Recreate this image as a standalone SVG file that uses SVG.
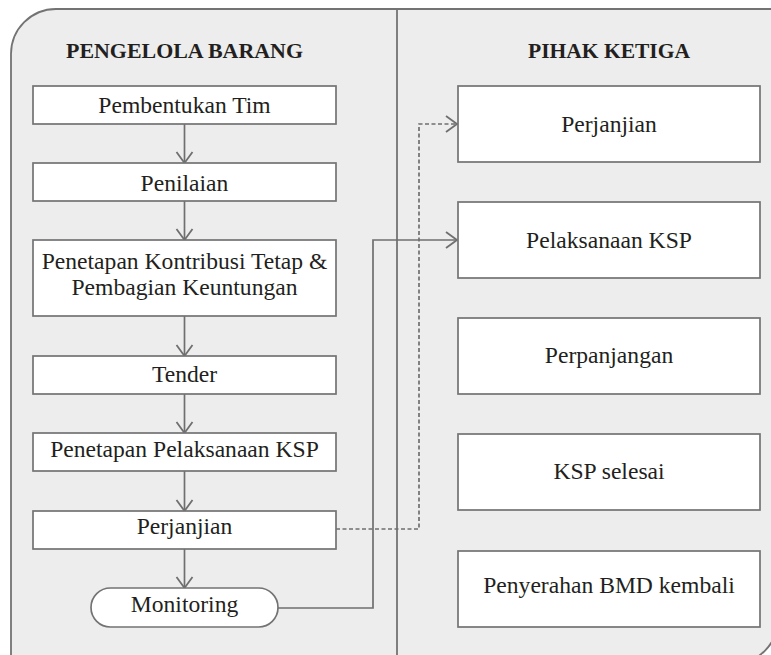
<svg xmlns="http://www.w3.org/2000/svg" width="771" height="655" viewBox="0 0 771 655">
<style>
.box{fill:#ffffff;stroke:#737373;stroke-width:1.7}
.t{font-family:"Liberation Serif","Times New Roman",serif;font-size:23.6px;fill:#231f20;text-anchor:middle}
.h{font-family:"Liberation Serif","Times New Roman",serif;font-size:21px;font-weight:bold;fill:#231f20;text-anchor:middle}
.ln{fill:none;stroke:#6f6f6f;stroke-width:1.7}
.dash{stroke-dasharray:4 2.5}
</style>
<defs>
<marker id="ah" markerUnits="userSpaceOnUse" markerWidth="20" markerHeight="20" viewBox="-14 -10 16 20" refX="0" refY="0" orient="auto">
<path d="M-11,-8 L0,0 L-11,8" fill="none" stroke="#6f6f6f" stroke-width="1.8"/>
</marker>
</defs>
<g id="panel">
<path d="M11,670 L11,54 A45,45 0 0 1 56,9 L778,9 L778,619 A45,45 0 0 1 733,664 L11,664 Z" fill="#ecedec" stroke="#737373" stroke-width="1.8"/>
<line x1="397" y1="9" x2="397" y2="660" stroke="#737373" stroke-width="1.8"/>
<text class="h" x="184.5" y="58" textLength="237" lengthAdjust="spacingAndGlyphs">PENGELOLA BARANG</text>
<text class="h" x="609" y="58" textLength="162" lengthAdjust="spacingAndGlyphs">PIHAK KETIGA</text>
</g>
<g id="connectors">
<path class="ln" d="M184.5,124 L184.5,163" marker-end="url(#ah)"/>
<path class="ln" d="M184.5,201 L184.5,240" marker-end="url(#ah)"/>
<path class="ln" d="M184.5,316 L184.5,356" marker-end="url(#ah)"/>
<path class="ln" d="M184.5,394 L184.5,433" marker-end="url(#ah)"/>
<path class="ln" d="M184.5,471 L184.5,511" marker-end="url(#ah)"/>
<path class="ln" d="M184.5,549 L184.5,588" marker-end="url(#ah)"/>
<path class="ln dash" d="M336,529 L419,529 L419,124 L457,124" marker-end="url(#ah)"/>
<path class="ln" d="M278,608 L373,608 L373,240 L457,240" marker-end="url(#ah)"/>
</g>
<g id="pembentukan-tim">
<rect class="box" x="33" y="86" width="303" height="38"/>
<text class="t" x="184.5" y="113">Pembentukan Tim</text>
</g>
<g id="penilaian">
<rect class="box" x="33" y="163" width="303" height="38"/>
<text class="t" x="184.5" y="190.5">Penilaian</text>
</g>
<g id="penetapan-kontribusi">
<rect class="box" x="33" y="240" width="303" height="76"/>
<text class="t" x="184.5" y="269">Penetapan Kontribusi Tetap &amp;</text>
<text class="t" x="184.5" y="295">Pembagian Keuntungan</text>
</g>
<g id="tender">
<rect class="box" x="33" y="356" width="303" height="38"/>
<text class="t" x="184.5" y="381.5">Tender</text>
</g>
<g id="penetapan-pelaksanaan">
<rect class="box" x="33" y="433" width="303" height="38"/>
<text class="t" x="184.5" y="457">Penetapan Pelaksanaan KSP</text>
</g>
<g id="perjanjian-left">
<rect class="box" x="33" y="511" width="303" height="38"/>
<text class="t" x="184.5" y="534">Perjanjian</text>
</g>
<g id="monitoring">
<rect class="box" x="91" y="588" width="187" height="39" rx="19.5" ry="19.5"/>
<text class="t" x="184.5" y="612">Monitoring</text>
</g>
<g id="perjanjian-right">
<rect class="box" x="458" y="86" width="302" height="76"/>
<text class="t" x="609" y="132">Perjanjian</text>
</g>
<g id="pelaksanaan-ksp">
<rect class="box" x="458" y="202" width="302" height="76"/>
<text class="t" x="609" y="248">Pelaksanaan KSP</text>
</g>
<g id="perpanjangan">
<rect class="box" x="458" y="318" width="302" height="76"/>
<text class="t" x="609" y="363">Perpanjangan</text>
</g>
<g id="ksp-selesai">
<rect class="box" x="458" y="434" width="302" height="76"/>
<text class="t" x="609" y="479">KSP selesai</text>
</g>
<g id="penyerahan-bmd">
<rect class="box" x="458" y="551" width="302" height="76"/>
<text class="t" x="609" y="593">Penyerahan BMD kembali</text>
</g>
</svg>
